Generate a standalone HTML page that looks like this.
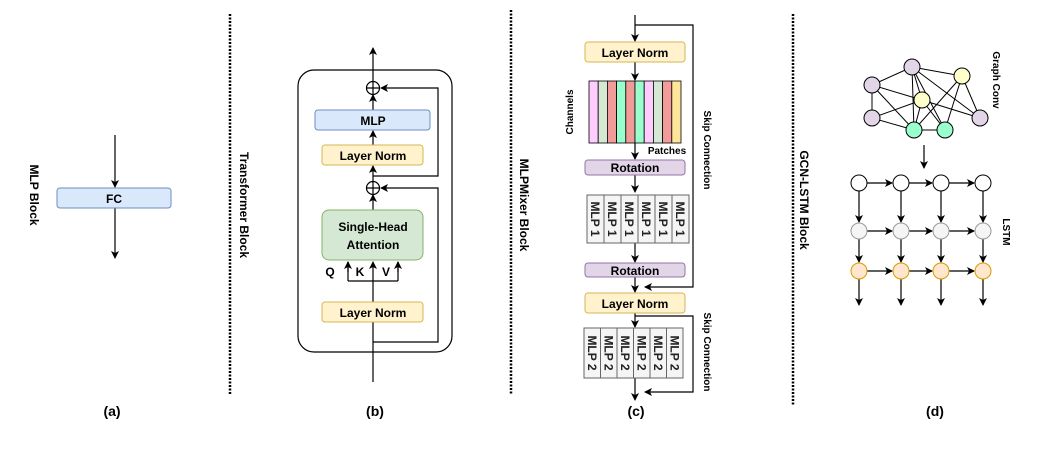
<!DOCTYPE html>
<html><head><meta charset="utf-8"><style>body{margin:0;background:#fff}svg{display:block}text{font-family:"Liberation Sans",sans-serif;font-weight:bold}</style></head><body>
<svg width="1038" height="452" viewBox="0 0 1038 452" xmlns="http://www.w3.org/2000/svg">
<defs><marker id="a" markerWidth="8" markerHeight="8" refX="7" refY="4" orient="auto" markerUnits="userSpaceOnUse"><path d="M0,0 L8,4 L0,8 L2,4 z" fill="#000"/></marker></defs>
<g stroke="#000" stroke-width="1.2" fill="none">
<line x1="115" y1="135" x2="115" y2="187" marker-end="url(#a)"/>
<line x1="115" y1="208" x2="115" y2="258" marker-end="url(#a)"/>
<line x1="230" y1="14" x2="230" y2="395" stroke-dasharray="2,1.5" stroke-width="2.5"/>
<line x1="511" y1="10" x2="511" y2="395" stroke-dasharray="2,1.5" stroke-width="2.5"/>
<line x1="793" y1="14" x2="793" y2="405" stroke-dasharray="2,1.5" stroke-width="2.5"/>
<rect x="298" y="70" width="154" height="282" rx="16"/>
<line x1="373" y1="382" x2="373" y2="303" marker-end="url(#a)"/>
<line x1="373" y1="302" x2="373" y2="282"/>
<path d="M348,281 H398 M348,281 V262 M398,281 V262" />
<line x1="348" y1="272" x2="348" y2="262" marker-end="url(#a)"/>
<line x1="398" y1="272" x2="398" y2="262" marker-end="url(#a)"/>
<line x1="373" y1="282" x2="373" y2="262" marker-end="url(#a)"/>
<line x1="373" y1="210" x2="373" y2="195" marker-end="url(#a)"/>
<circle cx="373" cy="188" r="6.5"/>
<path d="M366.5,188 H379.5 M373,181.5 V194.5"/>
<line x1="373" y1="181" x2="373" y2="166" marker-end="url(#a)"/>
<line x1="373" y1="145" x2="373" y2="131" marker-end="url(#a)"/>
<line x1="373" y1="110" x2="373" y2="95" marker-end="url(#a)"/>
<circle cx="373" cy="88" r="6.5"/>
<path d="M366.5,88 H379.5 M373,81.5 V94.5"/>
<line x1="373" y1="81" x2="373" y2="48" marker-end="url(#a)"/>
<path d="M373,342 H438 V188 H381" marker-end="url(#a)"/>
<path d="M373,176 H438 V88 H381" marker-end="url(#a)"/>
<line x1="635" y1="15" x2="635" y2="41" marker-end="url(#a)"/>
<path d="M635,25 H693 V287 H645" marker-end="url(#a)"/>
<line x1="635" y1="62" x2="635" y2="80" marker-end="url(#a)"/>
<line x1="635" y1="143" x2="635" y2="159" marker-end="url(#a)"/>
<line x1="635" y1="175" x2="635" y2="192" marker-end="url(#a)"/>
<line x1="635" y1="243" x2="635" y2="262" marker-end="url(#a)"/>
<line x1="635" y1="277" x2="635" y2="292" marker-end="url(#a)"/>
<line x1="635" y1="313" x2="635" y2="327" marker-end="url(#a)"/>
<path d="M635,316 H693 V392 H645" marker-end="url(#a)"/>
<line x1="635" y1="378" x2="635" y2="400" marker-end="url(#a)"/>
<g stroke-width="1">
<path d="M872,85 L912,67 M872,85 L872,118 M872,85 L922,100 M872,85 L914,130 M912,67 L962,76 M912,67 L914,130 M912,67 L922,100 M912,67 L980,118 M962,76 L914,130 M962,76 L945,130 M962,76 L980,118 M922,100 L872,118 M922,100 L980,118 M922,100 L914,130 M922,100 L945,130 M872,118 L914,130 M914,130 L945,130 M945,130 L912,67"/>
</g>
<line x1="924" y1="145" x2="924" y2="168" marker-end="url(#a)"/>
</g>
<rect x="57" y="188" width="114" height="20" rx="3" fill="#dae8fc" stroke="#6c8ebf"/>
<text x="114" y="203" font-size="12" text-anchor="middle">FC</text>
<text transform="translate(30,195) rotate(90)" font-size="12" text-anchor="middle">MLP Block</text>
<text x="112" y="416" font-size="14" text-anchor="middle">(a)</text>
<text transform="translate(240,205) rotate(90)" font-size="12" text-anchor="middle">Transformer Block</text>
<text transform="translate(520,205) rotate(90)" font-size="12" text-anchor="middle">MLPMixer Block</text>
<text transform="translate(800,200) rotate(90)" font-size="12" text-anchor="middle">GCN-LSTM Block</text>
<rect x="315" y="110" width="115" height="20" rx="3" fill="#dae8fc" stroke="#6c8ebf"/>
<text x="373" y="125" font-size="12" text-anchor="middle">MLP</text>
<rect x="322" y="145" width="101" height="20" rx="3" fill="#fff2cc" stroke="#d6b656"/>
<text x="373" y="160" font-size="12" text-anchor="middle">Layer Norm</text>
<rect x="322" y="210" width="101" height="50" rx="7" fill="#d5e8d4" stroke="#82b366"/>
<text x="373" y="231" font-size="12" text-anchor="middle">Single-Head</text>
<text x="373" y="249" font-size="12" text-anchor="middle">Attention</text>
<text x="330" y="276" font-size="12" text-anchor="middle">Q</text>
<text x="360" y="276" font-size="12" text-anchor="middle">K</text>
<text x="386" y="276" font-size="12" text-anchor="middle">V</text>
<rect x="322" y="302" width="101" height="20" rx="3" fill="#fff2cc" stroke="#d6b656"/>
<text x="373" y="317" font-size="12" text-anchor="middle">Layer Norm</text>
<text x="375" y="416" font-size="14" text-anchor="middle">(b)</text>
<rect x="585" y="42" width="100" height="20" rx="3" fill="#fff2cc" stroke="#d6b656"/>
<text x="635" y="57" font-size="12" text-anchor="middle">Layer Norm</text>
<g stroke="#000" stroke-width="0.8">
<rect x="589" y="81" width="9.2" height="62" fill="#ffccff"/>
<rect x="598.2" y="81" width="9.2" height="62" fill="#d5e8d4"/>
<rect x="607.4" y="81" width="9.2" height="62" fill="#f19c99"/>
<rect x="616.6" y="81" width="9.2" height="62" fill="#99ffcc"/>
<rect x="625.8" y="81" width="9.2" height="62" fill="#f19c99"/>
<rect x="635" y="81" width="9.2" height="62" fill="#99ffcc"/>
<rect x="644.2" y="81" width="9.2" height="62" fill="#ffccff"/>
<rect x="653.4" y="81" width="9.2" height="62" fill="#d5e8d4"/>
<rect x="662.6" y="81" width="9.2" height="62" fill="#f19c99"/>
<rect x="671.8" y="81" width="9.2" height="62" fill="#ffe599"/>
</g>
<text transform="translate(573,112) rotate(-90)" font-size="10" text-anchor="middle">Channels</text>
<text x="667" y="154" font-size="10" text-anchor="middle">Patches</text>
<rect x="585" y="160" width="100" height="15" rx="3" fill="#e1d5e7" stroke="#9673a6"/>
<text x="635" y="172" font-size="12" text-anchor="middle">Rotation</text>
<rect x="585" y="263" width="100" height="14" rx="3" fill="#e1d5e7" stroke="#9673a6"/>
<text x="635" y="275" font-size="12" text-anchor="middle">Rotation</text>
<rect x="585" y="293" width="100" height="20" rx="3" fill="#fff2cc" stroke="#d6b656"/>
<text x="635" y="308" font-size="12" text-anchor="middle">Layer Norm</text>
<g font-size="12" stroke="#666" fill="#f5f5f5">
<rect x="587" y="195" width="17" height="48"/><rect x="604" y="195" width="17" height="48"/><rect x="621" y="195" width="17" height="48"/><rect x="638" y="195" width="17" height="48"/><rect x="655" y="195" width="17" height="48"/><rect x="672" y="195" width="17" height="48"/>
<rect x="584" y="328" width="16.5" height="50"/><rect x="600.5" y="328" width="16.5" height="50"/><rect x="617" y="328" width="16.5" height="50"/><rect x="633.5" y="328" width="16.5" height="50"/><rect x="650" y="328" width="16.5" height="50"/><rect x="666.5" y="328" width="16.5" height="50"/>
</g>
<g font-size="12" fill="#222">
<text transform="translate(591,219) rotate(90)" text-anchor="middle">MLP 1</text>
<text transform="translate(608,219) rotate(90)" text-anchor="middle">MLP 1</text>
<text transform="translate(625,219) rotate(90)" text-anchor="middle">MLP 1</text>
<text transform="translate(642,219) rotate(90)" text-anchor="middle">MLP 1</text>
<text transform="translate(659,219) rotate(90)" text-anchor="middle">MLP 1</text>
<text transform="translate(676,219) rotate(90)" text-anchor="middle">MLP 1</text>
<text transform="translate(588,353) rotate(90)" text-anchor="middle">MLP 2</text>
<text transform="translate(604.5,353) rotate(90)" text-anchor="middle">MLP 2</text>
<text transform="translate(621,353) rotate(90)" text-anchor="middle">MLP 2</text>
<text transform="translate(637.5,353) rotate(90)" text-anchor="middle">MLP 2</text>
<text transform="translate(654,353) rotate(90)" text-anchor="middle">MLP 2</text>
<text transform="translate(670.5,353) rotate(90)" text-anchor="middle">MLP 2</text>
</g>
<text transform="translate(704,150) rotate(90)" font-size="10" text-anchor="middle">Skip Connection</text>
<text transform="translate(704,352) rotate(90)" font-size="10" text-anchor="middle">Skip Connection</text>
<text x="636" y="416" font-size="14" text-anchor="middle">(c)</text>
<g stroke="#000" stroke-width="1">
<circle cx="872" cy="85" r="8" fill="#e1d5e7"/><circle cx="912" cy="67" r="8" fill="#e1d5e7"/><circle cx="872" cy="118" r="8" fill="#e1d5e7"/><circle cx="980" cy="118" r="8" fill="#e1d5e7"/>
<circle cx="962" cy="76" r="8" fill="#ffffcc"/><circle cx="922" cy="100" r="8" fill="#ffffcc"/>
<circle cx="914" cy="130" r="8" fill="#99ffcc"/><circle cx="945" cy="130" r="8" fill="#99ffcc"/>
</g>
<text transform="translate(993,80) rotate(90)" font-size="10" text-anchor="middle">Graph Conv</text>
<text transform="translate(1003,232) rotate(90)" font-size="10" text-anchor="middle">LSTM</text>
<g stroke="#000" stroke-width="1.2" fill="none" marker-end="url(#a)">
<line x1="867" y1="183" x2="892" y2="183"/><line x1="909" y1="183" x2="932" y2="183"/><line x1="949" y1="183" x2="974" y2="183"/>
<line x1="867" y1="231" x2="892" y2="231"/><line x1="909" y1="231" x2="932" y2="231"/><line x1="949" y1="231" x2="974" y2="231"/>
<line x1="867" y1="271" x2="892" y2="271"/><line x1="909" y1="271" x2="932" y2="271"/><line x1="949" y1="271" x2="974" y2="271"/>
<line x1="859" y1="191" x2="859" y2="222"/><line x1="901" y1="191" x2="901" y2="222"/><line x1="941" y1="191" x2="941" y2="222"/><line x1="983" y1="191" x2="983" y2="222"/>
<line x1="859" y1="239" x2="859" y2="262"/><line x1="901" y1="239" x2="901" y2="262"/><line x1="941" y1="239" x2="941" y2="262"/><line x1="983" y1="239" x2="983" y2="262"/>
<line x1="859" y1="279" x2="859" y2="305"/><line x1="901" y1="279" x2="901" y2="305"/><line x1="941" y1="279" x2="941" y2="305"/><line x1="983" y1="279" x2="983" y2="305"/>
</g>
<g stroke-width="1">
<circle cx="859" cy="183" r="8" fill="#fff" stroke="#000"/><circle cx="901" cy="183" r="8" fill="#fff" stroke="#000"/><circle cx="941" cy="183" r="8" fill="#fff" stroke="#000"/><circle cx="983" cy="183" r="8" fill="#fff" stroke="#000"/>
<circle cx="859" cy="231" r="8" fill="#f5f5f5" stroke="#999"/><circle cx="901" cy="231" r="8" fill="#f5f5f5" stroke="#999"/><circle cx="941" cy="231" r="8" fill="#f5f5f5" stroke="#999"/><circle cx="983" cy="231" r="8" fill="#f5f5f5" stroke="#999"/>
<circle cx="859" cy="271" r="8" fill="#ffe6cc" stroke="#d79b00"/><circle cx="901" cy="271" r="8" fill="#ffe6cc" stroke="#d79b00"/><circle cx="941" cy="271" r="8" fill="#ffe6cc" stroke="#d79b00"/><circle cx="983" cy="271" r="8" fill="#ffe6cc" stroke="#d79b00"/>
</g>
<text x="935" y="416" font-size="14" text-anchor="middle">(d)</text>
</svg>
</body></html>
